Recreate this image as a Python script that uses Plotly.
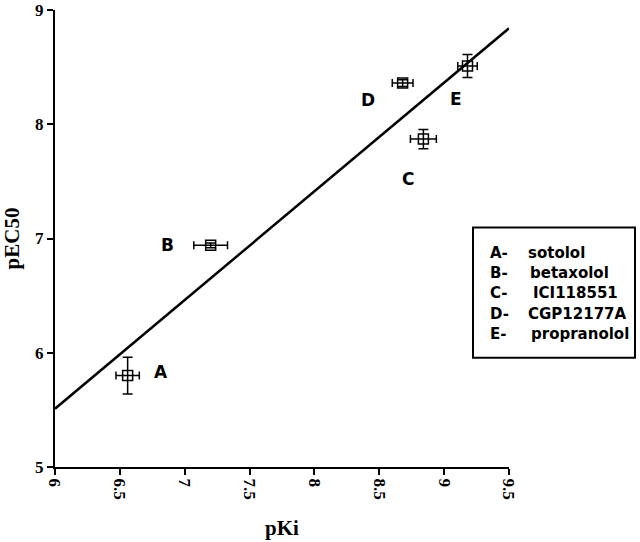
import plotly.graph_objects as go

# data
labels = ["A", "B", "C", "D", "E"]
names = ["sotolol", "betaxolol", "ICI118551", "CGP12177A", "propranolol"]
pKi = [6.56, 7.20, 8.84, 8.68, 9.18]
pEC50 = [5.80, 6.94, 7.87, 8.36, 8.51]
pKi_err = [0.09, 0.13, 0.10, 0.08, 0.075]
pEC50_err = [0.16, 0.02, 0.085, 0.03, 0.10]
fit_x = [6.0, 9.5]
fit_y = [5.51, 8.84]
label_x = [6.82, 6.87, 8.72, 8.41, 9.09]
label_y = [5.835, 6.94, 7.52, 8.21, 8.22]
x_ticks = [6, 6.5, 7, 7.5, 8, 8.5, 9, 9.5]
x_ticktext = ["6", "6.5", "7", "7.5", "8", "8.5", "9", "9.5"]
y_ticks = [5, 6, 7, 8, 9]

SANS = "DejaVu Sans"
SERIF = "Liberation Serif"

fig = go.Figure()
fig.add_trace(go.Scatter(x=fit_x, y=fit_y, mode="lines",
                         line=dict(color="black", width=2.5), showlegend=False))
fig.add_trace(go.Scatter(
    x=pKi, y=pEC50, mode="markers",
    marker=dict(symbol="square-open", size=10, color="black", line=dict(width=1.5)),
    error_x=dict(type="data", array=pKi_err, color="black", thickness=1.5, width=4),
    error_y=dict(type="data", array=pEC50_err, color="black", thickness=1.5, width=5),
    showlegend=False))

for lx, ly, t in zip(label_x, label_y, labels):
    fig.add_annotation(x=lx, y=ly, text=t, showarrow=False,
                       xanchor="center", yanchor="middle",
                       font=dict(family=SANS, size=17, color="black", weight="bold"))

# legend box
fig.add_shape(type="rect", xref="paper", yref="paper",
              x0=0.9207, x1=1.2775, y0=0.2391, y1=0.5239,
              line=dict(color="black", width=2), fillcolor="white")
row_y = [0.4674, 0.4239, 0.3804, 0.3348, 0.2913]
name_x = [1.0374, 1.0419, 1.0485, 1.0374, 1.0441]
for i, (t, n) in enumerate(zip(labels, names)):
    fig.add_annotation(xref="paper", yref="paper", x=0.9537, y=row_y[i],
                       text=t + "-", showarrow=False, xanchor="left", yanchor="middle",
                       font=dict(family=SANS, size=15, color="black", weight="bold"))
    fig.add_annotation(xref="paper", yref="paper", x=name_x[i], y=row_y[i],
                       text=n, showarrow=False, xanchor="left", yanchor="middle",
                       font=dict(family=SANS, size=15, color="black", weight="bold"))

fig.update_layout(
    width=640, height=542,
    margin=dict(l=55, r=131, t=10, b=75, autoexpand=False),
    paper_bgcolor="white", plot_bgcolor="white",
    font=dict(family=SERIF, color="black"),
)
fig.update_xaxes(range=[6, 9.5], tickvals=x_ticks, ticktext=x_ticktext,
                 tickangle=90, showgrid=False, zeroline=False, automargin=False,
                 showline=True, linecolor="black", linewidth=2,
                 ticks="outside", ticklen=6, tickwidth=1.5, tickcolor="black",
                 ticklabeloverflow="allow",
                 tickfont=dict(family=SERIF, size=17, color="black", weight="bold"),
                 title=dict(text="pKi", font=dict(family=SERIF, size=21, weight="bold"), standoff=22))
fig.update_yaxes(range=[5, 9], tickvals=y_ticks,
                 showgrid=False, zeroline=False, automargin=False,
                 showline=True, linecolor="black", linewidth=2,
                 ticks="outside", ticklen=6, tickwidth=1.5, tickcolor="black",
                 ticklabeloverflow="allow",
                 tickfont=dict(family=SERIF, size=17, color="black", weight="bold"),
                 title=dict(text="pEC50", font=dict(family=SERIF, size=21, weight="bold"), standoff=12))

fig.write_html("out.html", config={"displayModeBar": False},
               post_script="document.body.style.margin='0';")
